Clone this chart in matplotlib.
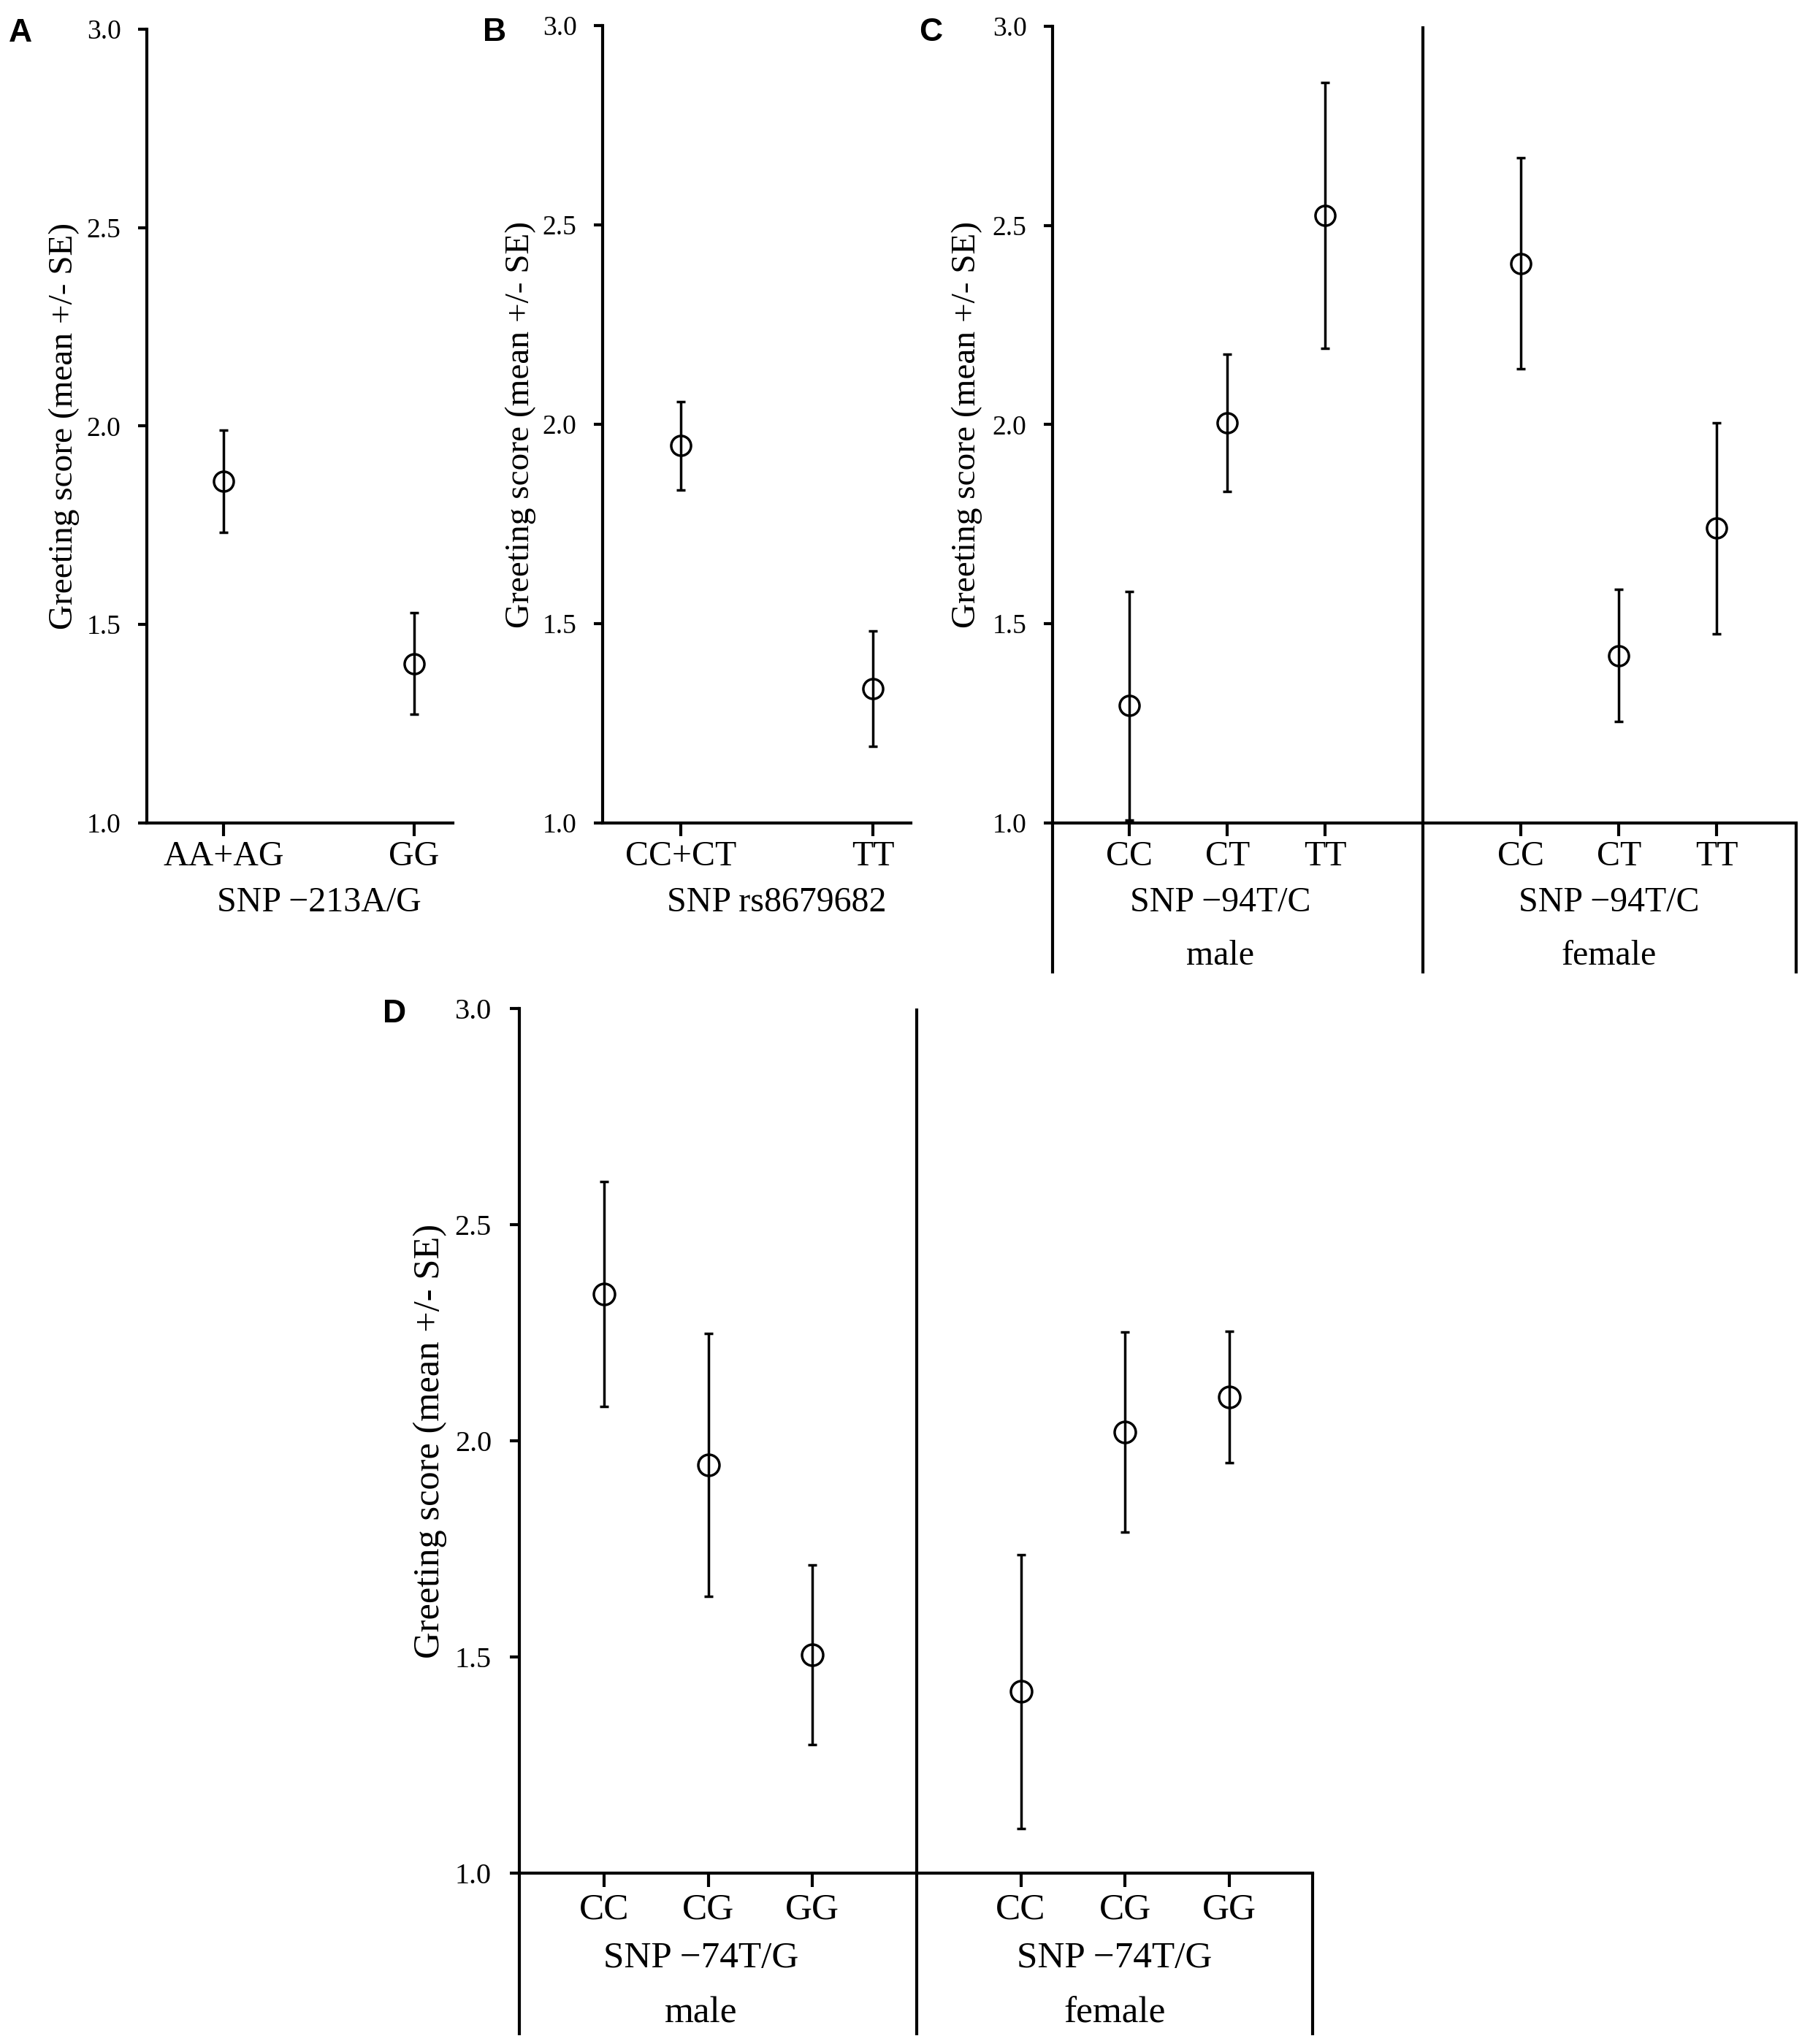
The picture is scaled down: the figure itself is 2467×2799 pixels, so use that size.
import matplotlib
matplotlib.use('Agg')
import matplotlib.pyplot as plt
from matplotlib.transforms import blended_transform_factory

# ---------------- data ----------------
yticks = [1.0, 1.5, 2.0, 2.5, 3.0]

A_labels = ['AA+AG', 'GG']
A_mean = [1.861, 1.402]
A_se = [0.128, 0.127]
A_snp = 'SNP \u2212213A/G'

B_labels = ['CC+CT', 'TT']
B_mean = [1.946, 1.337]
B_se = [0.111, 0.145]
B_snp = 'SNP rs8679682'

C_labels = ['CC', 'CT', 'TT']
C_male_mean = [1.295, 2.005, 2.525]
C_male_se = [0.287, 0.172, 0.333]
C_female_mean = [2.405, 1.420, 1.740]
C_female_se = [0.265, 0.166, 0.265]
C_snp = 'SNP \u221294T/C'

D_labels = ['CC', 'CG', 'GG']
D_male_mean = [2.339, 1.944, 1.505]
D_male_se = [0.260, 0.304, 0.207]
D_female_mean = [1.420, 2.020, 2.102]
D_female_se = [0.317, 0.231, 0.152]
D_snp = 'SNP \u221274T/G'

sex_labels = ['male', 'female']
ylabel = 'Greeting score (mean +/- SE)'

# ---------------- figure ----------------
W, H = 2467, 2799
DPI = 100
plt.rcParams['font.family'] = ['Liberation Serif', 'DejaVu Serif']
fig = plt.figure(figsize=(W / DPI, H / DPI), dpi=DPI)
fig.patch.set_facecolor('white')

LW = 3.0


def make_axes(x0, x1, ytop, ybot):
    return fig.add_axes([x0 / W, 1 - ybot / H, (x1 - x0) / W, (ybot - ytop) / H])


def style(ax, s=1.0):
    for sp in ['top', 'right']:
        ax.spines[sp].set_visible(False)
    for sp in ['left', 'bottom']:
        ax.spines[sp].set_linewidth(LW)
    ax.set_ylim(1.0, 3.0)
    ax.set_yticks(yticks)
    ax.set_yticklabels([f'{v:.1f}' for v in yticks])
    ax.tick_params(axis='y', direction='out', length=8.6 * s, width=LW,
                   pad=17 * s, labelsize=27 * s)
    ax.tick_params(axis='x', direction='out', length=13 * s, width=LW,
                   pad=(58 * s - 18 * s) / 1.389, labelsize=34.5 * s)
    ax.patch.set_alpha(0)


def ebar(ax, x, m, e, s=1.0):
    ax.errorbar(x, m, yerr=e, fmt='o', mfc='none', mec='black', ms=19.5 * s,
                mew=2.5, ecolor='black', elinewidth=2.5, capsize=4.3 * s,
                capthick=2.5, clip_on=False, zorder=3)


def set_xlabels(ax, pos, labels):
    ax.set_xticks(pos)
    ax.set_xticklabels(labels)
    for lb in ax.get_xticklabels():
        lb.set_va('baseline')


# ---- Panel A ----
axA = make_axes(201, 620, 40, 1127)
style(axA)
axA.set_xlim(-0.402, 1.203)
posA = list(range(len(A_labels)))
ebar(axA, posA, A_mean, A_se)
set_xlabels(axA, posA, A_labels)
hA = 1127 - 40
tA = blended_transform_factory(axA.transData, axA.transAxes)
axA.text(0.5, -121 / hA, A_snp, transform=tA, ha='center', va='baseline', fontsize=34.5)
fig.text(87.5 / W, 1 - 583.5 / H, ylabel, rotation=90, ha='center', va='center', fontsize=34)
fig.text(12 / W, 1 - 57 / H, 'A', fontfamily='Liberation Sans', fontweight='bold',
         fontsize=32, ha='left', va='baseline')

# ---- Panel B ----
axB = make_axes(825, 1247, 35, 1127)
style(axB)
axB.set_xlim(-0.407, 1.198)
posB = list(range(len(B_labels)))
ebar(axB, posB, B_mean, B_se)
set_xlabels(axB, posB, B_labels)
hB = 1127 - 35
tB = blended_transform_factory(axB.transData, axB.transAxes)
axB.text(0.5, -121 / hB, B_snp, transform=tB, ha='center', va='baseline', fontsize=34.5)
fig.text(712.5 / W, 1 - 581 / H, ylabel, rotation=90, ha='center', va='center', fontsize=34)
fig.text(661 / W, 1 - 56 / H, 'B', fontfamily='Liberation Sans', fontweight='bold',
         fontsize=32, ha='left', va='baseline')


def split_panel(ax, labels, mm, ms_, fm, fs, snp, h, ext_px, offs, s=1.0, xl=(-0.78, 6.8)):
    style(ax, s)
    ax.set_xlim(*xl)
    male_pos = [0, 1, 2]
    female_pos = [4, 5, 6]
    ebar(ax, male_pos, mm, ms_, s)
    ebar(ax, female_pos, fm, fs, s)
    set_xlabels(ax, male_pos + female_pos, labels + labels)
    t = blended_transform_factory(ax.transData, ax.transAxes)
    ext = ext_px / h
    ax.plot([0, 0], [0, -ext], transform=ax.transAxes, color='black', lw=LW,
            clip_on=False, solid_capstyle='butt')
    ax.plot([1, 1], [0, -ext], transform=ax.transAxes, color='black', lw=LW,
            clip_on=False, solid_capstyle='butt')
    ax.plot([3, 3], [1, -ext], transform=t, color='black', lw=LW,
            clip_on=False, solid_capstyle='butt')
    for cx, sx in zip([0.93, 4.9], sex_labels):
        ax.text(cx, -offs[0] / h, snp, transform=t, ha='center', va='baseline', fontsize=34.5 * s)
        ax.text(cx, -offs[1] / h, sx, transform=t, ha='center', va='baseline', fontsize=34.5 * s)


# ---- Panel C ----
axC = make_axes(1441, 2459, 36, 1127)
hC = 1127 - 36
split_panel(axC, C_labels, C_male_mean, C_male_se, C_female_mean, C_female_se,
            C_snp, hC, 1333 - 1127, (121, 194), 1.0, (-0.784, 6.81))
fig.text(1324 / W, 1 - 581.5 / H, ylabel, rotation=90, ha='center', va='center', fontsize=34)
fig.text(1258 / W, 1 - 56 / H, 'C', fontfamily='Liberation Sans', fontweight='bold',
         fontsize=32, ha='left', va='baseline')

# ---- Panel D ----
SD = 1.07
axD = make_axes(711, 1797, 1381, 2565)
hD = 2565 - 1381
split_panel(axD, D_labels, D_male_mean, D_male_se, D_female_mean, D_female_se,
            D_snp, hD, 2787 - 2565, (129, 205), SD, (-0.813, 6.80))
fig.text(589 / W, 1 - 1973 / H, ylabel, rotation=90, ha='center', va='center', fontsize=34 * SD)
fig.text(524 / W, 1 - 1400 / H, 'D', fontfamily='Liberation Sans', fontweight='bold',
         fontsize=32, ha='left', va='baseline')

fig.savefig('out.png', dpi=DPI, facecolor='white')
